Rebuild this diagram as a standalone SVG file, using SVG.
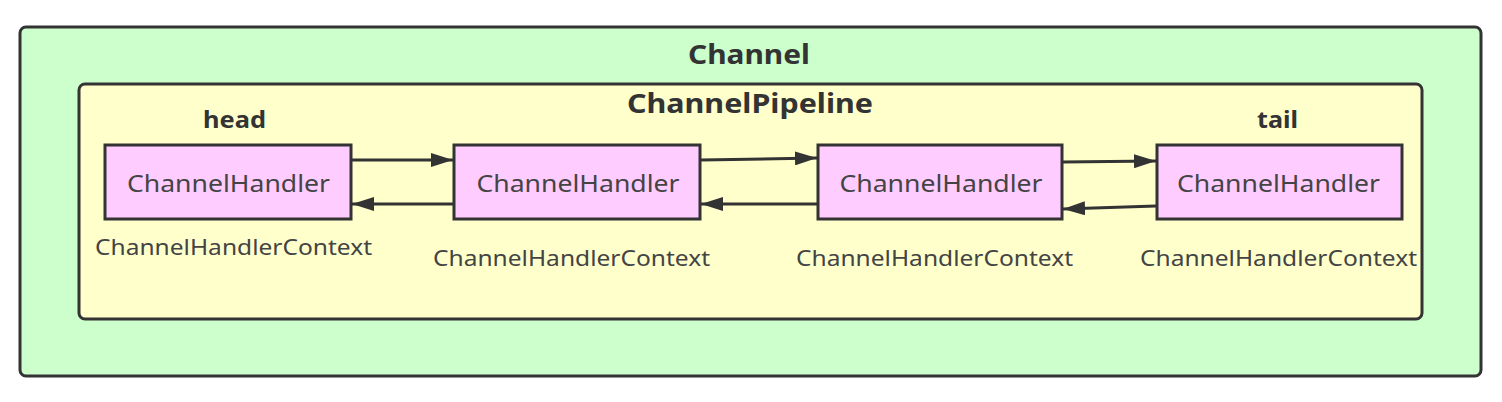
<svg xmlns="http://www.w3.org/2000/svg" width="1502" height="402" viewBox="0 0 1502 402">
<defs>
<style>
.frame{stroke:#333;stroke-width:3}
.box{fill:#FFCCFF;stroke:#333;stroke-width:3}
.t{font-family:"Noto Sans","Open Sans",sans-serif;fill:#333;text-anchor:middle}
.b{font-weight:bold;font-size:27px}
.s{font-weight:bold;font-size:23px}
.h{font-size:24px;fill:#444}
.c{font-size:21px;fill:#444}
.arr{stroke:#333;stroke-width:3;fill:none;marker-end:url(#ah)}
</style>
<marker id="ah" viewBox="0 0 10 10" refX="10" refY="5" markerWidth="22" markerHeight="14" markerUnits="userSpaceOnUse" orient="auto" preserveAspectRatio="none">
<path d="M0,0 L10,5 L0,10 Z" fill="#333"/>
</marker>
</defs>
<rect width="1502" height="402" fill="#fff"/>
<g id="channel">
<rect class="frame" x="20" y="27" width="1461" height="349" rx="6" fill="#CCFFCC"/>
<text class="t b" x="749" y="64" textLength="122" lengthAdjust="spacingAndGlyphs">Channel</text>
</g>
<g id="pipeline">
<rect class="frame" x="79" y="84" width="1343" height="235" rx="6" fill="#FFFFCC"/>
<text class="t b" x="750" y="113" textLength="246" lengthAdjust="spacingAndGlyphs">ChannelPipeline</text>
</g>
<g id="handler1">
<text class="t s" x="234.5" y="128" textLength="63" lengthAdjust="spacingAndGlyphs">head</text>
<rect class="box" x="105" y="145" width="246" height="74"/>
<text class="t h" x="228.5" y="192" textLength="203" lengthAdjust="spacingAndGlyphs">ChannelHandler</text>
<text class="t c" x="233.5" y="255" textLength="277" lengthAdjust="spacingAndGlyphs">ChannelHandlerContext</text>
</g>
<g id="handler2">
<rect class="box" x="454" y="145" width="246" height="74"/>
<text class="t h" x="578" y="192" textLength="203" lengthAdjust="spacingAndGlyphs">ChannelHandler</text>
<text class="t c" x="571.5" y="266" textLength="277" lengthAdjust="spacingAndGlyphs">ChannelHandlerContext</text>
</g>
<g id="handler3">
<rect class="box" x="818" y="145" width="244" height="74"/>
<text class="t h" x="941" y="192" textLength="203" lengthAdjust="spacingAndGlyphs">ChannelHandler</text>
<text class="t c" x="934.5" y="266" textLength="277" lengthAdjust="spacingAndGlyphs">ChannelHandlerContext</text>
</g>
<g id="handler4">
<text class="t s" x="1277.5" y="128" textLength="41" lengthAdjust="spacingAndGlyphs">tail</text>
<rect class="box" x="1157" y="145" width="245" height="74"/>
<text class="t h" x="1278.5" y="192" textLength="203" lengthAdjust="spacingAndGlyphs">ChannelHandler</text>
<text class="t c" x="1278.5" y="266" textLength="277" lengthAdjust="spacingAndGlyphs">ChannelHandlerContext</text>
</g>
<g id="connectors">
<path class="arr" d="M352,160 L453,160"/>
<path class="arr" d="M453,204 L352,204"/>
<path class="arr" d="M701,160 L817,158"/>
<path class="arr" d="M817,204 L701,204"/>
<path class="arr" d="M1063,162 L1156,161"/>
<path class="arr" d="M1156,206 L1063,209"/>
</g>
</svg>
